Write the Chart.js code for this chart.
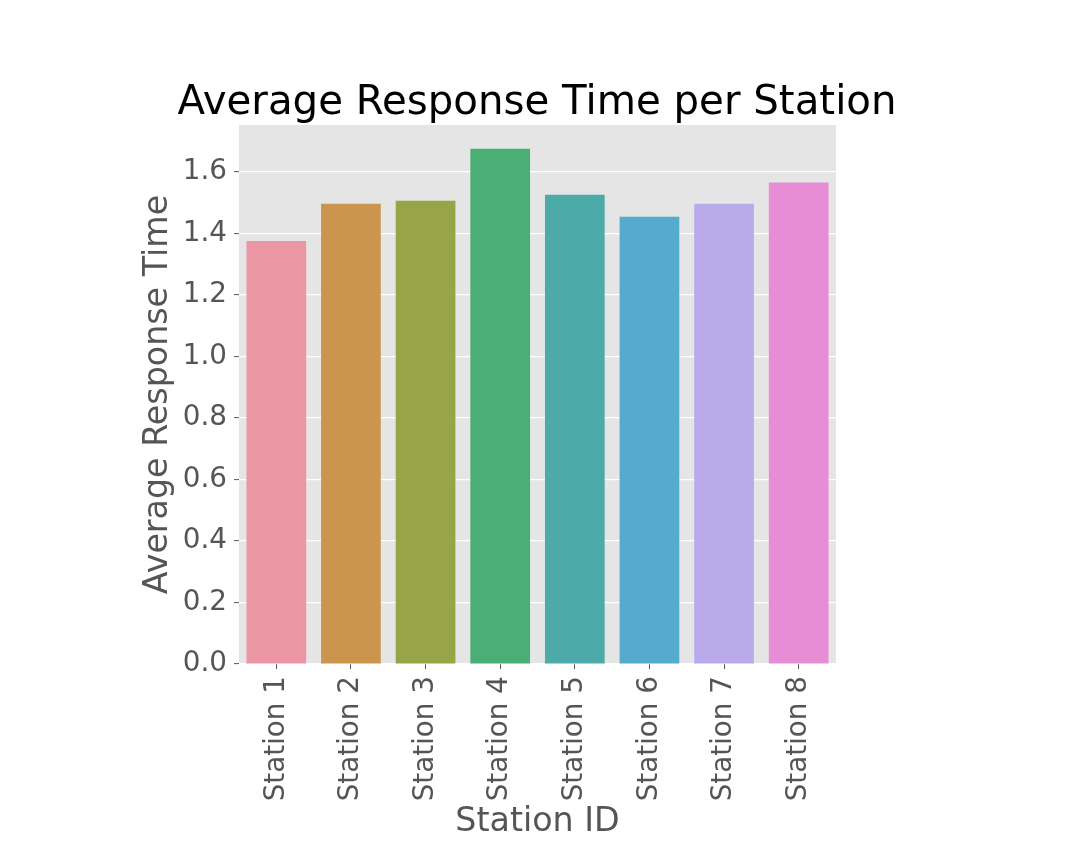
<!DOCTYPE html>
<html>
<head>
<meta charset="utf-8">
<script src="https://cdn.jsdelivr.net/npm/chart.js@4"></script>
<style>
    body { margin: 0; background: #ffffff; }
    #wrap { width: 1074px; height: 853px; }
</style>
</head>
<body>
<div id="wrap"><canvas id="chart" width="1074" height="853"></canvas></div>
<script>
const stations = ['Station 1', 'Station 2', 'Station 3', 'Station 4', 'Station 5', 'Station 6', 'Station 7', 'Station 8'];
const responseTimes = [1.376, 1.497, 1.507, 1.676, 1.526, 1.455, 1.497, 1.566];
const barColors = ['#ea96a3', '#cb954e', '#98a448', '#4aaf74', '#4caaa8', '#54abce', '#b8aaeb', '#e78dd6'];
const yTicks = [0, 0.2, 0.4, 0.6, 0.8, 1.0, 1.2, 1.4, 1.6];

const chartTitle = 'Average Response Time per Station';
const font = 'DejaVu Sans';

// grey panel behind the bars, ggplot style
const panelBackground = {
    id: 'panelBackground',
    beforeDraw(chart) {
        const { ctx, chartArea } = chart;
        ctx.save();
        ctx.fillStyle = '#e5e5e5';
        ctx.fillRect(chartArea.left, chartArea.top, chartArea.right - chartArea.left, chartArea.bottom - chartArea.top);
        ctx.restore();
    }
};

// title centred on the whole figure, not on the plot box
const figureTitle = {
    id: 'figureTitle',
    afterDraw(chart) {
        const ctx = chart.ctx;
        ctx.save();
        ctx.font = `40.3px "${font}"`;
        ctx.fillStyle = '#000000';
        ctx.textAlign = 'center';
        ctx.textBaseline = 'middle';
        ctx.fillText(chartTitle, chart.width / 2, 104);
        ctx.restore();
    }
};

new Chart(document.getElementById('chart'), {
    type: 'bar',
    data: {
        labels: stations,
        datasets: [{
            data: responseTimes,
            backgroundColor: barColors,
            borderWidth: 0,
            categoryPercentage: 0.8,
            barPercentage: 1.0
        }]
    },
    options: {
        responsive: false,
        animation: false,
        devicePixelRatio: 1,
        layout: {
            padding: { left: 0, right: 238, top: 125, bottom: 0 }
        },
        plugins: {
            legend: { display: false },
            tooltip: { enabled: false }
        },
        scales: {
            x: {
                border: { display: false },
                grid: {
                    offset: false,
                    drawOnChartArea: false,
                    tickLength: 5,
                    tickColor: '#555555',
                    tickWidth: 1
                },
                ticks: {
                    autoSkip: false,
                    minRotation: 90,
                    maxRotation: 90,
                    padding: 7,
                    color: '#555555',
                    font: { family: font, size: 27.8 }
                },
                title: {
                    display: true,
                    text: 'Station ID',
                    color: '#555555',
                    font: { family: font, size: 33.3 },
                    padding: { top: 0, bottom: 11 }
                },
                afterFit(scale) {
                    scale.height = 189;
                }
            },
            y: {
                min: 0,
                max: 1.753,
                border: { display: false },
                grid: {
                    color: '#ffffff',
                    lineWidth: 1.2,
                    tickLength: 5,
                    tickColor: '#555555',
                    tickWidth: 1
                },
                ticks: {
                    padding: 7,
                    color: '#555555',
                    font: { family: font, size: 27.8 },
                    callback: v => v.toFixed(1)
                },
                afterBuildTicks(scale) {
                    scale.ticks = yTicks.map(v => ({ value: v }));
                },
                title: {
                    display: true,
                    text: 'Average Response Time',
                    color: '#555555',
                    font: { family: font, size: 33.3 },
                    padding: { top: 138, bottom: 0 }
                },
                afterFit(scale) {
                    scale.width = 239;
                }
            }
        }
    },
    plugins: [panelBackground, figureTitle]
});
</script>
</body>
</html>
